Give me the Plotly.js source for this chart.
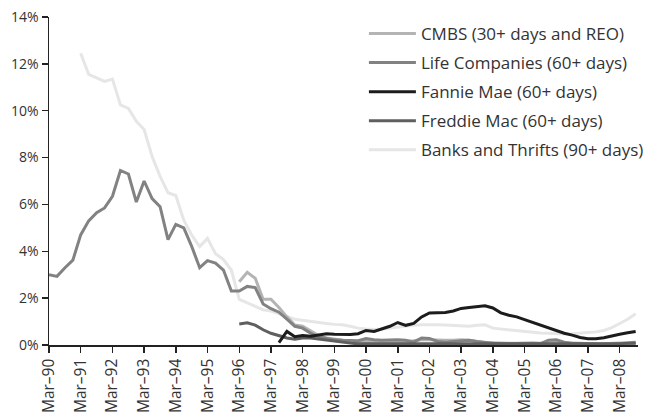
<!DOCTYPE html>
<html>
<head>
<meta charset="utf-8">
<script src="https://cdn.plot.ly/plotly-3.0.1.min.js"></script>
<style>html,body{margin:0;padding:0;background:#fff;}#chart{width:651px;height:418px;}</style>
</head>
<body>
<div id="chart"></div>
<script>
// Quarterly observations, first quarter = Mar-90, last = Sep-08
const firstQuarter = {year: 1990, month: 3};
const quarterCount = 75;

const seriesNames = [
  "CMBS (30+ days and REO)",
  "Life Companies (60+ days)",
  "Fannie Mae (60+ days)",
  "Freddie Mac (60+ days)",
  "Banks and Thrifts (90+ days)"
];

// start index (quarters after Mar-90) for each series
const cmbsStart = 24;     // Mar-96
const lifeStart = 0;      // Mar-90
const fannieStart = 29;   // Jun-97
const freddieStart = 24;  // Mar-96
const banksStart = 4;     // Mar-91

const cmbs = [
  2.70, 3.10, 2.85, 1.95,
  1.95, 1.60, 1.20, 0.85,
  0.80, 0.60, 0.40, 0.30,
  0.25, 0.20, 0.16, 0.15,
  0.15, 0.13, 0.14, 0.15,
  0.15, 0.15, 0.18, 0.22,
  0.22, 0.20, 0.20, 0.20,
  0.22, 0.20, 0.15, 0.10,
  0.10, 0.08, 0.08, 0.08,
  0.10, 0.10, 0.08, 0.10,
  0.12, 0.10, 0.08, 0.06,
  0.05, 0.05, 0.05, 0.06,
  0.08, 0.10, 0.12
];

const life = [
  3.00, 2.93, 3.30, 3.62,
  4.70, 5.30, 5.65, 5.85,
  6.35, 7.45, 7.30, 6.10,
  7.00, 6.25, 5.90, 4.50,
  5.15, 5.00, 4.20, 3.30,
  3.60, 3.50, 3.20, 2.30,
  2.30, 2.50, 2.45, 1.75,
  1.55, 1.40, 1.10, 0.80,
  0.72, 0.50, 0.35, 0.28,
  0.22, 0.20, 0.18, 0.18,
  0.28, 0.22, 0.20, 0.22,
  0.22, 0.20, 0.12, 0.30,
  0.28, 0.15, 0.12, 0.15,
  0.18, 0.20, 0.15, 0.10,
  0.08, 0.06, 0.05, 0.05,
  0.05, 0.05, 0.06, 0.20,
  0.22, 0.12, 0.06, 0.04,
  0.03, 0.03, 0.03, 0.03,
  0.03, 0.05, 0.05
];

const fannie = [
  0.10, 0.58, 0.35,
  0.40, 0.37, 0.42, 0.48,
  0.46, 0.44, 0.45, 0.48,
  0.62, 0.58, 0.68, 0.80,
  0.96, 0.84, 0.92, 1.20,
  1.37, 1.39, 1.39, 1.45,
  1.56, 1.60, 1.62, 1.67,
  1.58, 1.37, 1.27, 1.20,
  1.08, 0.96, 0.85, 0.73,
  0.63, 0.50, 0.42, 0.32,
  0.27, 0.27, 0.31, 0.40,
  0.46, 0.52, 0.58
];

const freddie = [
  0.90, 0.95, 0.85, 0.65,
  0.50, 0.40, 0.30, 0.25,
  0.30, 0.30, 0.25, 0.20,
  0.15, 0.10, 0.08, 0.05,
  0.05, 0.03, 0.03, 0.03,
  0.03, 0.03, 0.03, 0.03,
  0.03, 0.03, 0.03, 0.03,
  0.03, 0.03, 0.03, 0.03,
  0.03, 0.03, 0.03, 0.03,
  0.03, 0.03, 0.03, 0.03,
  0.03, 0.03, 0.03, 0.03,
  0.03, 0.03, 0.03, 0.04,
  0.05, 0.08, 0.10
];

const banks = [
  12.45, 11.55, 11.40, 11.25,
  11.35, 10.25, 10.10, 9.55,
  9.20, 8.05, 7.20, 6.50,
  6.38, 5.33, 4.69, 4.20,
  4.55, 3.90, 3.65, 3.20,
  1.95, 1.80, 1.68, 1.50,
  1.45, 1.35, 1.22, 1.10,
  1.05, 1.00, 0.96, 0.92,
  0.88, 0.86, 0.80, 0.72,
  0.68, 0.66, 0.68, 0.72,
  0.78, 0.80, 0.84, 0.86,
  0.87, 0.86, 0.85, 0.84,
  0.82, 0.80, 0.84, 0.86,
  0.72, 0.68, 0.65, 0.60,
  0.56, 0.53, 0.51, 0.50,
  0.48, 0.47, 0.48, 0.50,
  0.52, 0.56, 0.62, 0.74,
  0.92, 1.10, 1.33
];

const yTicks = [0, 2, 4, 6, 8, 10, 12, 14];
const yTickLabels = ["0%", "2%", "4%", "6%", "8%", "10%", "12%", "14%"];

const colors = ["#b4b4b4", "#828282", "#1c1c1c", "#5f5f5f", "#e6e6e6"];

function quarterDate(i) {
  const m = firstQuarter.month - 1 + i * 3;
  const y = firstQuarter.year + Math.floor(m / 12);
  const mm = (m % 12) + 1;
  return y + "-" + String(mm).padStart(2, "0") + "-01";
}
const quarters = [];
for (let i = 0; i < quarterCount; i++) quarters.push(quarterDate(i));

const seriesData = [
  [cmbs, cmbsStart], [life, lifeStart], [fannie, fannieStart],
  [freddie, freddieStart], [banks, banksStart]
];

const traces = seriesData.map(function (s, k) {
  return {
    type: "scatter",
    mode: "lines",
    name: seriesNames[k],
    legendgroup: "g" + k,
    legendrank: k + 1,
    x: quarters.slice(s[1], s[1] + s[0].length),
    y: s[0],
    line: {color: colors[k], width: 3},
    hoverinfo: "skip"
  };
});
// draw order: banks underneath, then others
const drawOrder = [4, 0, 1, 3, 2];
const ordered = drawOrder.map(function (k) { return traces[k]; });

const font = "'Open Sans', 'Noto Sans', sans-serif";

const layout = {
  width: 651,
  height: 418,
  margin: {l: 49, r: 13, t: 17, b: 73, autoexpand: false},
  paper_bgcolor: "#ffffff",
  plot_bgcolor: "#ffffff",
  font: {family: font, color: "#333333", size: 14},
  showlegend: true,
  legend: {
    xref: "container", yref: "container",
    x: 0.559, y: 0.962, xanchor: "left", yanchor: "top",
    font: {family: font, size: 17, color: "#333333"},
    bgcolor: "rgba(0,0,0,0)",
    tracegroupgap: 4,
    itemwidth: 47,
    traceorder: "grouped"
  },
  xaxis: {
    type: "date",
    automargin: false,
    range: ["1990-03-01", "2008-09-28"],
    tick0: "1990-03-01",
    dtick: "M12",
    tickformat: "%b–%y",
    tickangle: -90,
    ticks: "outside",
    ticklen: 6,
    tickwidth: 1.5,
    tickcolor: "#222222",
    showline: true,
    linecolor: "#222222",
    linewidth: 1.5,
    showgrid: false,
    zeroline: false,
    tickfont: {family: font, size: 15.5, color: "#333333"}
  },
  yaxis: {
    automargin: false,
    range: [0, 14],
    tickmode: "array",
    tickvals: yTicks,
    ticktext: yTickLabels,
    ticks: "outside",
    ticklen: 6,
    tickwidth: 1.5,
    tickcolor: "#222222",
    showline: true,
    linecolor: "#222222",
    linewidth: 1.5,
    showgrid: false,
    zeroline: false,
    tickfont: {family: font, size: 14, color: "#333333"}
  }
};

Plotly.newPlot("chart", ordered, layout, {displayModeBar: false, staticPlot: true});
</script>
</body>
</html>
